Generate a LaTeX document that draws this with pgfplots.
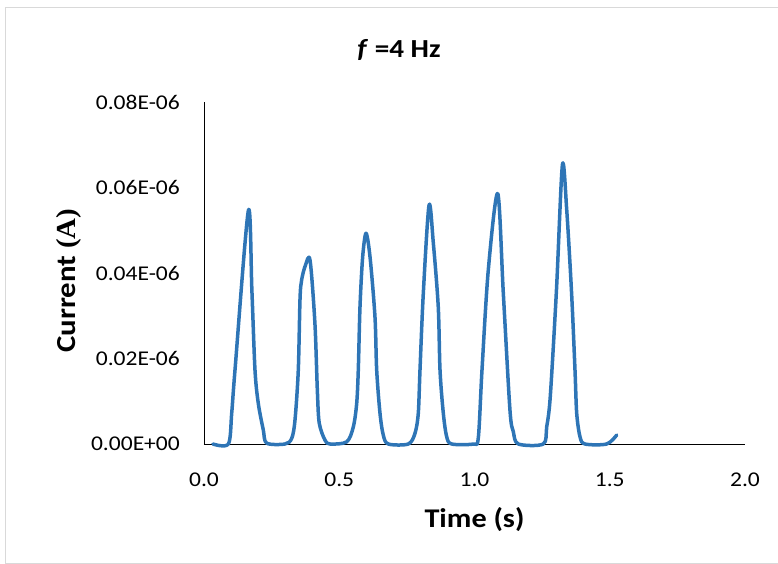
\documentclass[border=0pt]{standalone}
\usepackage{fontspec}
\setmainfont[FakeStretch=1.12]{Carlito}
\newfontfamily\serifA[FakeStretch=1.05]{Liberation Serif}
\usepackage{pgfplots}
\pgfplotsset{compat=1.18}
\definecolor{exblue}{RGB}{46,117,182}
\definecolor{bordergray}{RGB}{217,217,217}
\begin{document}
\begin{tikzpicture}[x=1pt,y=1pt]
\path[use as bounding box] (-204,-120) rectangle (574,444);
\draw[bordergray, line width=1pt] (-198,-119) rectangle (590,436);
\begin{axis}[
  scale only axis,
  width=541pt, height=342pt,
  at={(0,0)}, anchor=south west,
  xmin=0, xmax=2, ymin=0, ymax=0.08,
  scaled y ticks=false, scaled x ticks=false,
  axis x line*=bottom, axis y line*=left,
  axis line style={-, black, line width=0.8pt},
  major tick length=0pt,
  xtick={0,0.5,1,1.5,2},
  xticklabels={0.0,0.5,1.0,1.5,2.0},
  ytick={0,0.02,0.04,0.06,0.08},
  yticklabels={0.00E+00,0.02E-06,0.04E-06,0.06E-06,0.08E-06},
  ticklabel style={font=\fontsize{21}{25}\selectfont, text=black},
  yticklabel style={anchor=east, inner sep=0pt, xshift=-24pt},
  xticklabel style={anchor=north, inner sep=0pt, yshift=-29pt},
  clip=false,
  xlabel={\textbf{Time (s)}},
  xlabel style={font=\fontsize{27}{32}\selectfont, at={(axis description cs:0.5,0)}, anchor=base, yshift=-83pt},
  ylabel={\textbf{Current }{\serifA\bfseries (A)}},
  ylabel style={font=\fontsize{27.5}{32}\selectfont, at={(axis description cs:-0.2384,0.478)}, anchor=base},
]
\addplot[exblue, line width=3.5pt, line cap=round, line join=round, smooth, tension=0.5] coordinates {
(0.033,0) (0.09,0) (0.1024,0.0072) (0.1146,0.0173) (0.164,0.0546)
(0.177,0.036) (0.1885,0.0173) (0.2007,0.0095) (0.2192,0.0033) (0.2318,0.0002)
(0.2994,0) (0.3242,0.0013) (0.3364,0.0056) (0.3486,0.0173) (0.355,0.034) (0.361,0.0384)
(0.375,0.0418) (0.392,0.043) (0.41,0.0283) (0.419,0.0126) (0.426,0.0049) (0.4473,0.0009) (0.4658,0)
(0.5275,0.0005) (0.552,0.004) (0.5645,0.0095) (0.5704,0.0173) (0.5767,0.0321) (0.5866,0.0438)
(0.599,0.0493) (0.6137,0.0438) (0.632,0.0298) (0.6384,0.0173) (0.6506,0.0072) (0.6628,0.0021) (0.6813,0)
(0.7553,0) (0.78,0.0025) (0.7922,0.0072) (0.7985,0.0173) (0.8108,0.0353) (0.832,0.0559)
(0.8478,0.047) (0.866,0.0321) (0.8725,0.0173) (0.8847,0.0072) (0.8972,0.0017) (0.9157,0)
(0.9956,0) (1.014,0.0014) (1.0277,0.0173) (1.051,0.0407) (1.0858,0.0586)
(1.1065,0.0353) (1.131,0.008) (1.1434,0.0029) (1.162,0)
(1.2543,0) (1.2669,0.004) (1.28,0.011) (1.303,0.036) (1.325,0.0653) (1.341,0.0547) (1.359,0.0352)
(1.3715,0.0173) (1.3778,0.0072) (1.39,0.0017) (1.4085,0)
(1.4887,0) (1.5257,0.0021)
};
\end{axis}
\node[anchor=base, font=\fontsize{26}{31}\selectfont] at (195,386) {\textbf{\textit{f} =4 Hz}};
\end{tikzpicture}
\end{document}
